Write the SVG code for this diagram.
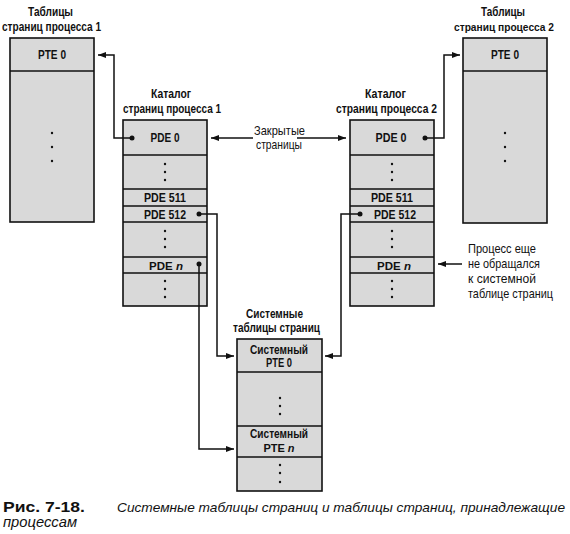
<svg xmlns="http://www.w3.org/2000/svg" width="570" height="534" viewBox="0 0 570 534">
<style>
.box{fill:#d9d9d9;stroke:#111;stroke-width:1.6}
.div{stroke:#111;stroke-width:1.6;fill:none}
.t,.h{font-family:"Liberation Sans",Arial,sans-serif;font-weight:bold;font-size:12.5px;fill:#111;text-anchor:middle}
.n{font-family:"Liberation Sans",Arial,sans-serif;font-size:13px;fill:#111}
.dot{fill:#111}
.c{stroke:#111;stroke-width:1.5;fill:none}
.cap{font-family:"Liberation Sans",Arial,sans-serif;font-size:14px;fill:#111}
</style>
<defs>
<marker id="ah" viewBox="0 0 8 6" refX="8" refY="3" markerWidth="8" markerHeight="6" markerUnits="userSpaceOnUse" orient="auto">
<path d="M0,0 L8,3 L0,6 Z" fill="#111"/>
</marker>
</defs>

<g id="pt1">
<text class="h" x="50.5" y="16" textLength="45" lengthAdjust="spacingAndGlyphs">Таблицы</text>
<text class="h" x="51.5" y="31" textLength="99" lengthAdjust="spacingAndGlyphs">страниц процесса 1</text>
<rect class="box" x="10" y="38" width="84" height="184"/>
<line class="div" x1="10" y1="71" x2="94" y2="71"/>
<text class="t" x="52" y="59" textLength="28" lengthAdjust="spacingAndGlyphs">PTE 0</text>
<circle class="dot" cx="52" cy="133" r="1.2"/><circle class="dot" cx="52" cy="147" r="1.2"/><circle class="dot" cx="52" cy="161" r="1.2"/>
</g>

<g id="pt2">
<text class="h" x="503" y="16" textLength="44" lengthAdjust="spacingAndGlyphs">Таблицы</text>
<text class="h" x="504" y="31" font-size="11" textLength="100" lengthAdjust="spacingAndGlyphs" style="font-size:11px">страниц процесса 2</text>
<rect class="box" x="463" y="38" width="84" height="185"/>
<line class="div" x1="463" y1="71" x2="547" y2="71"/>
<text class="t" x="505" y="59" textLength="28" lengthAdjust="spacingAndGlyphs">PTE 0</text>
<circle class="dot" cx="505" cy="133" r="1.2"/><circle class="dot" cx="505" cy="147" r="1.2"/><circle class="dot" cx="505" cy="161" r="1.2"/>
</g>

<g id="cat1">
<text class="h" x="171" y="98" textLength="40" lengthAdjust="spacingAndGlyphs">Каталог</text>
<text class="h" x="172" y="113" textLength="98" lengthAdjust="spacingAndGlyphs">страниц процесса 1</text>
<rect class="box" x="123" y="120" width="84" height="186"/>
<path class="div" d="M123,155H207M123,189H207M123,206H207M123,222H207M123,257H207M123,273H207"/>
<text class="t" x="165" y="142" textLength="29" lengthAdjust="spacingAndGlyphs">PDE 0</text>
<text class="t" x="165" y="202" textLength="42" lengthAdjust="spacingAndGlyphs">PDE 511</text>
<text class="t" x="165" y="218.5" textLength="42" lengthAdjust="spacingAndGlyphs">PDE 512</text>
<text class="t" x="166" y="269.5" font-size="11.5" style="font-size:11.5px">PDE <tspan font-style="italic">n</tspan></text>
<circle class="dot" cx="165" cy="164" r="1.2"/><circle class="dot" cx="165" cy="172" r="1.2"/><circle class="dot" cx="165" cy="180" r="1.2"/>
<circle class="dot" cx="165" cy="231" r="1.2"/><circle class="dot" cx="165" cy="239" r="1.2"/><circle class="dot" cx="165" cy="247" r="1.2"/>
<circle class="dot" cx="165" cy="281" r="1.2"/><circle class="dot" cx="165" cy="289" r="1.2"/><circle class="dot" cx="165" cy="297" r="1.2"/>
</g>

<g id="cat2">
<text class="h" x="385.5" y="98" textLength="41" lengthAdjust="spacingAndGlyphs">Каталог</text>
<text class="h" x="386.5" y="113" textLength="101" lengthAdjust="spacingAndGlyphs">страниц процесса 2</text>
<rect class="box" x="350" y="120" width="84" height="186"/>
<path class="div" d="M350,155H434M350,189H434M350,206H434M350,222H434M350,257H434M350,273H434"/>
<text class="t" x="391" y="142" textLength="31" lengthAdjust="spacingAndGlyphs">PDE 0</text>
<text class="t" x="392" y="202" textLength="42" lengthAdjust="spacingAndGlyphs">PDE 511</text>
<text class="t" x="395" y="218.5" textLength="42" lengthAdjust="spacingAndGlyphs">PDE 512</text>
<text class="t" x="394" y="269.5" style="font-size:11.5px">PDE <tspan font-style="italic">n</tspan></text>
<circle class="dot" cx="392" cy="164" r="1.2"/><circle class="dot" cx="392" cy="172" r="1.2"/><circle class="dot" cx="392" cy="180" r="1.2"/>
<circle class="dot" cx="392" cy="231" r="1.2"/><circle class="dot" cx="392" cy="239" r="1.2"/><circle class="dot" cx="392" cy="247" r="1.2"/>
<circle class="dot" cx="392" cy="281" r="1.2"/><circle class="dot" cx="392" cy="289" r="1.2"/><circle class="dot" cx="392" cy="297" r="1.2"/>
</g>

<g id="sys">
<text class="h" x="274.5" y="318" textLength="57" lengthAdjust="spacingAndGlyphs">Системные</text>
<text class="h" x="276.5" y="332" textLength="87" lengthAdjust="spacingAndGlyphs">таблицы страниц</text>
<rect class="box" x="237" y="339" width="85" height="152"/>
<path class="div" d="M237,372H322M237,426H322M237,457H322"/>
<text class="t" x="279" y="353.5" textLength="58" lengthAdjust="spacingAndGlyphs">Системный</text>
<text class="t" x="279" y="367" textLength="26" lengthAdjust="spacingAndGlyphs">PTE 0</text>
<text class="t" x="279" y="438" textLength="58" lengthAdjust="spacingAndGlyphs">Системный</text>
<text class="t" x="279" y="452" style="font-size:11px">PTE <tspan font-style="italic">n</tspan></text>
<circle class="dot" cx="280" cy="398" r="1.2"/><circle class="dot" cx="280" cy="406" r="1.2"/><circle class="dot" cx="280" cy="414" r="1.2"/>
<circle class="dot" cx="280" cy="465" r="1.2"/><circle class="dot" cx="280" cy="473" r="1.2"/><circle class="dot" cx="280" cy="482" r="1.2"/>
</g>

<g id="lbl-closed">
<text class="n" x="279.5" y="135" text-anchor="middle" textLength="51" lengthAdjust="spacingAndGlyphs">Закрытые</text>
<text class="n" x="279" y="149" text-anchor="middle" textLength="46" lengthAdjust="spacingAndGlyphs">страницы</text>
</g>

<g id="lbl-proc">
<text class="n" x="468" y="253" textLength="68" lengthAdjust="spacingAndGlyphs">Процесс еще</text>
<text class="n" x="468" y="268" textLength="72" lengthAdjust="spacingAndGlyphs">не обращался</text>
<text class="n" x="468" y="283" textLength="68" lengthAdjust="spacingAndGlyphs">к системной</text>
<text class="n" x="468" y="298" textLength="85" lengthAdjust="spacingAndGlyphs">таблице страниц</text>
</g>

<g id="connectors">
<circle class="dot" cx="132" cy="138" r="2.5"/>
<path class="c" d="M132,138H114V55H98" marker-end="url(#ah)"/>
<circle class="dot" cx="425" cy="138" r="2.5"/>
<path class="c" d="M425,138H444V55H460" marker-end="url(#ah)"/>
<path class="c" d="M253,138H211" marker-end="url(#ah)"/>
<path class="c" d="M297,138H346" marker-end="url(#ah)"/>
<circle class="dot" cx="199" cy="214" r="2.5"/>
<path class="c" d="M199,214H217V356H234" marker-end="url(#ah)"/>
<circle class="dot" cx="199" cy="264" r="2.5"/>
<path class="c" d="M199,264V449H234" marker-end="url(#ah)"/>
<circle class="dot" cx="360" cy="214" r="2.5"/>
<path class="c" d="M360,214H341V356H325" marker-end="url(#ah)"/>
<path class="c" d="M462,264H438" marker-end="url(#ah)"/>
</g>

<g id="caption">
<text class="cap" x="3" y="512" font-weight="bold" textLength="82" lengthAdjust="spacingAndGlyphs">Рис. 7-18.</text>
<text class="cap" x="117" y="512" font-style="italic" textLength="448" lengthAdjust="spacingAndGlyphs" style="font-size:13.4px">Системные таблицы страниц и таблицы страниц, принадлежащие</text>
<text class="cap" x="3" y="527" font-style="italic" textLength="74" lengthAdjust="spacingAndGlyphs">процессам</text>
</g>
</svg>
